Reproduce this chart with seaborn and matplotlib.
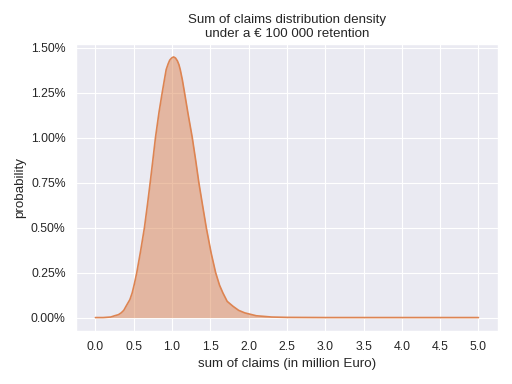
import numpy as np
import pandas as pd
import seaborn as sns
import matplotlib
matplotlib.use("Agg")
import matplotlib.pyplot as plt
from matplotlib.ticker import MultipleLocator, PercentFormatter

# sum of claims in million Euro, density (in %)
sum_of_claims = [0.0, 0.1, 0.2, 0.25, 0.3, 0.336, 0.37, 0.4, 0.45, 0.48,
                 0.51, 0.54, 0.59, 0.64, 0.68, 0.715, 0.75, 0.784, 0.83,
                 0.872, 0.9, 0.924, 0.95, 0.97, 0.995, 1.02, 1.045, 1.07,
                 1.09, 1.107, 1.135, 1.163, 1.21, 1.264, 1.31, 1.35, 1.40,
                 1.447, 1.51, 1.569, 1.62, 1.664, 1.72, 1.795, 1.87, 1.95,
                 2.1, 2.3, 2.5, 3.0, 4.0, 5.0]
density_pct = [0.0, 0.0, 0.003, 0.01, 0.016, 0.026, 0.04, 0.063, 0.10, 0.137,
               0.19, 0.25, 0.37, 0.50, 0.63, 0.75, 0.875, 1.00, 1.14,
               1.25, 1.32, 1.378, 1.41, 1.43, 1.442, 1.448, 1.442, 1.426,
               1.405, 1.378, 1.32, 1.25, 1.13, 1.00, 0.87, 0.75, 0.62,
               0.50, 0.36, 0.25, 0.18, 0.137, 0.09, 0.063, 0.04, 0.026,
               0.01, 0.003, 0.001, 0.0, 0.0, 0.0]

df = pd.DataFrame({"claims": sum_of_claims, "density": density_pct})

sns.set_theme(style="darkgrid")
plt.rcParams["font.family"] = ["Liberation Sans", "DejaVu Sans"]

color = sns.color_palette("deep")[1]

fig, ax = plt.subplots(figsize=(6.4, 4.8), dpi=80)
sns.lineplot(data=df, x="claims", y="density", color=color, linewidth=1.5, ax=ax)
ax.fill_between(df["claims"], df["density"], color=color, alpha=0.5, linewidth=0)

ax.xaxis.set_major_locator(MultipleLocator(0.5))
ax.yaxis.set_major_locator(MultipleLocator(0.25))
ax.yaxis.set_major_formatter(PercentFormatter(xmax=100, decimals=2))

ax.set_title("Sum of claims distribution density\nunder a \u20ac 100 000 retention")
ax.set_xlabel("sum of claims (in million Euro)")
ax.set_ylabel("probability")

plt.tight_layout()
plt.savefig("out.png", dpi=80)
